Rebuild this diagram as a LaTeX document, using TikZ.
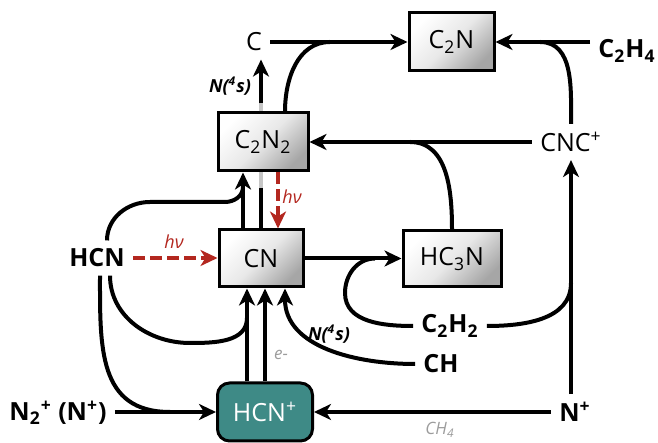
\documentclass[tikz,border=0pt]{standalone}
\usepackage{fontspec}
\setmainfont{Open Sans}
\usetikzlibrary{arrows.meta}
\definecolor{tealbox}{HTML}{3E8A86}
\definecolor{hvred}{HTML}{B3271F}
\definecolor{lightgrey}{HTML}{9C9C9C}

\begin{document}
\begin{tikzpicture}[x=0.5pt,y=0.5pt,
  box/.style={draw,line width=1.5pt,top color=white,bottom color=gray!70,middle color=gray!18,shading angle=45,minimum height=29pt,font=\fontsize{12.5}{14}\selectfont},
  txt/.style={inner sep=4pt,font=\fontsize{12.5}{14}\selectfont},
  mol/.style={inner sep=4pt,font=\fontsize{12.5}{14}\selectfont\bfseries},
  note/.style={inner sep=2pt,font=\fontsize{9}{10}\selectfont\bfseries\itshape},
  faint/.style={inner sep=2pt,text=lightgrey,font=\fontsize{8.5}{10}\selectfont\itshape},
  hvlbl/.style={inner sep=2pt,text=hvred,font=\fontsize{9}{10}\selectfont\itshape},
  ln/.style={line width=2pt},
  arr/.style={line width=2pt,-{Stealth[length=8.5pt,width=8pt,inset=2.5pt]}},
  photo/.style={arr,draw=hvred,dash pattern=on 6pt off 2.5pt}]
\useasboundingbox (0,0) rectangle (658,443);
% boxed products
\node[box,minimum width=42.5pt] (c2n) at (451.5,401) {C\textsubscript{2}N};
\node[box,minimum width=45pt] (c2n2) at (263,301) {C\textsubscript{2}N\textsubscript{2}};
\node[box,minimum width=42pt,minimum height=28.5pt] (cn) at (261,184.5) {CN};
\node[box,minimum width=49pt,minimum height=28pt] (hc3n) at (452,184) {HC\textsubscript{3}N};
\node[draw,line width=1.5pt,fill=tealbox,rounded corners=6pt,minimum width=47.5pt,minimum height=29pt,text=white,font=\fontsize{12.5}{14}\selectfont] (hcnp) at (265,31) {HCN\textsuperscript{+}};
% free species
\node[txt] (c) at (254,401) {C};
\node[mol] (c2h4) at (627,392) {C\textsubscript{2}H\textsubscript{4}};
\node[txt] (cncp) at (571,301) {CNC\textsuperscript{+}};
\node[mol] (hcn) at (97,185) {HCN};
\node[mol] (c2h2) at (450,117) {C\textsubscript{2}H\textsubscript{2}};
\node[mol] (ch) at (441,79) {CH};
\node[mol] (n2p) at (58,30) {N\textsubscript{2}\textsuperscript{+} (N\textsuperscript{+})};
\node[mol] (np) at (575,31) {N\textsuperscript{+}};
% junction points
\coordinate (jc) at (330,401);
\coordinate (jcc) at (540,401);
\coordinate (jh) at (410,301);
\coordinate (cnl) at ([xshift=-9pt]cn.north);
\coordinate (cnr) at ([xshift=8.5pt]cn.north);
\coordinate (cup) at (cn.north |- c2n2.south);
\coordinate (cdn) at (cn.north |- c2n2.north);
\coordinate (cnb1) at ([xshift=-7pt]cn.south);
\coordinate (cnb2) at ([xshift=2pt]cn.south);
\coordinate (cnb3) at ([xshift=12pt]cn.south);
% top row into C2N
\draw[arr] (c.east) -- (c2n.west);
\draw[ln] ([xshift=11pt]c2n2.north) to[out=90,in=180] (jc);
\draw[arr] (c2h4.west |- c2n.east) -- (c2n.east);
\draw[ln] (cncp.north) to[out=90,in=0] (jcc);
% into C2N2
\draw[arr] (cncp.west |- c2n2.east) -- (c2n2.east);
\draw[ln] (hc3n.north) to[out=90,in=0] (jh);
\draw[arr] (cnl) -- (cnl |- c2n2.south);
\draw[ln] ([xshift=5pt]hcn.north) to[out=90,in=180] (150,241) -- (225,241) to[out=0,in=-90] (cnl |- 0,256);
% CN + N(4s) -> C, passing behind C2N2
\draw[ln] (cn.north) -- ([yshift=-8pt]cup);
\draw[ln,draw=gray!45] ([yshift=-8pt]cup) -- (cup);
\draw[ln,draw=gray!45] (cdn) -- ([yshift=4pt]cdn);
\draw[arr] ([yshift=4pt]cdn) -- (cn.north |- c.south);
\node[note] (n4sa) at (230,357) {N(\textsuperscript{4}s)};
% photolysis
\draw[photo] (hcn.east) -- (cn.west |- hcn.east);
\node[hvlbl] (hva) at (174,201) {hν};
\draw[photo] (cnr |- c2n2.south) -- (cnr);
\node[hvlbl] (hvb) at (292,246) {hν};
% CN -> HC3N, C2H2 branch
\draw[arr] (cn.east) -- (hc3n.west |- cn.east);
\draw[ln] (c2h2.west) to[out=180,in=-90] (345,150) to[out=90,in=180] (375,184.5);
% N+ -> CNC+, C2H2 branch
\draw[arr] (np.north -| cncp.south) -- (cncp.south);
\draw[ln] (c2h2.east) to[out=0,in=-90] (cncp.south |- 0,160);
% into CN from below
\draw[arr] (cnb1 |- hcnp.north) -- (cnb1);
\draw[arr] (cnb2 |- hcnp.north) -- (cnb2);
\node[faint] (em) at (281,88) {e-};
\draw[ln] ([xshift=6.5pt]hcn.south) to[out=-90,in=180] (190,100) to[out=0,in=-90] (cnb1 |- 0,125);
\draw[arr] (ch.west) to[out=180,in=-90] (cnb3);
\node[note] (n4sb) at (329,109) {N(\textsuperscript{4}s)};
% into HCN+
\draw[ln] ([xshift=1.5pt]hcn.south) to[out=-90,in=180,looseness=1.2] (170,31);
\draw[arr] (n2p.east |- hcnp.west) -- (hcnp.west);
\draw[arr] (np.west |- hcnp.east) -- (hcnp.east);
\node[faint] (ch4) at (440,13) {CH\textsubscript{4}};
\end{tikzpicture}
\end{document}
